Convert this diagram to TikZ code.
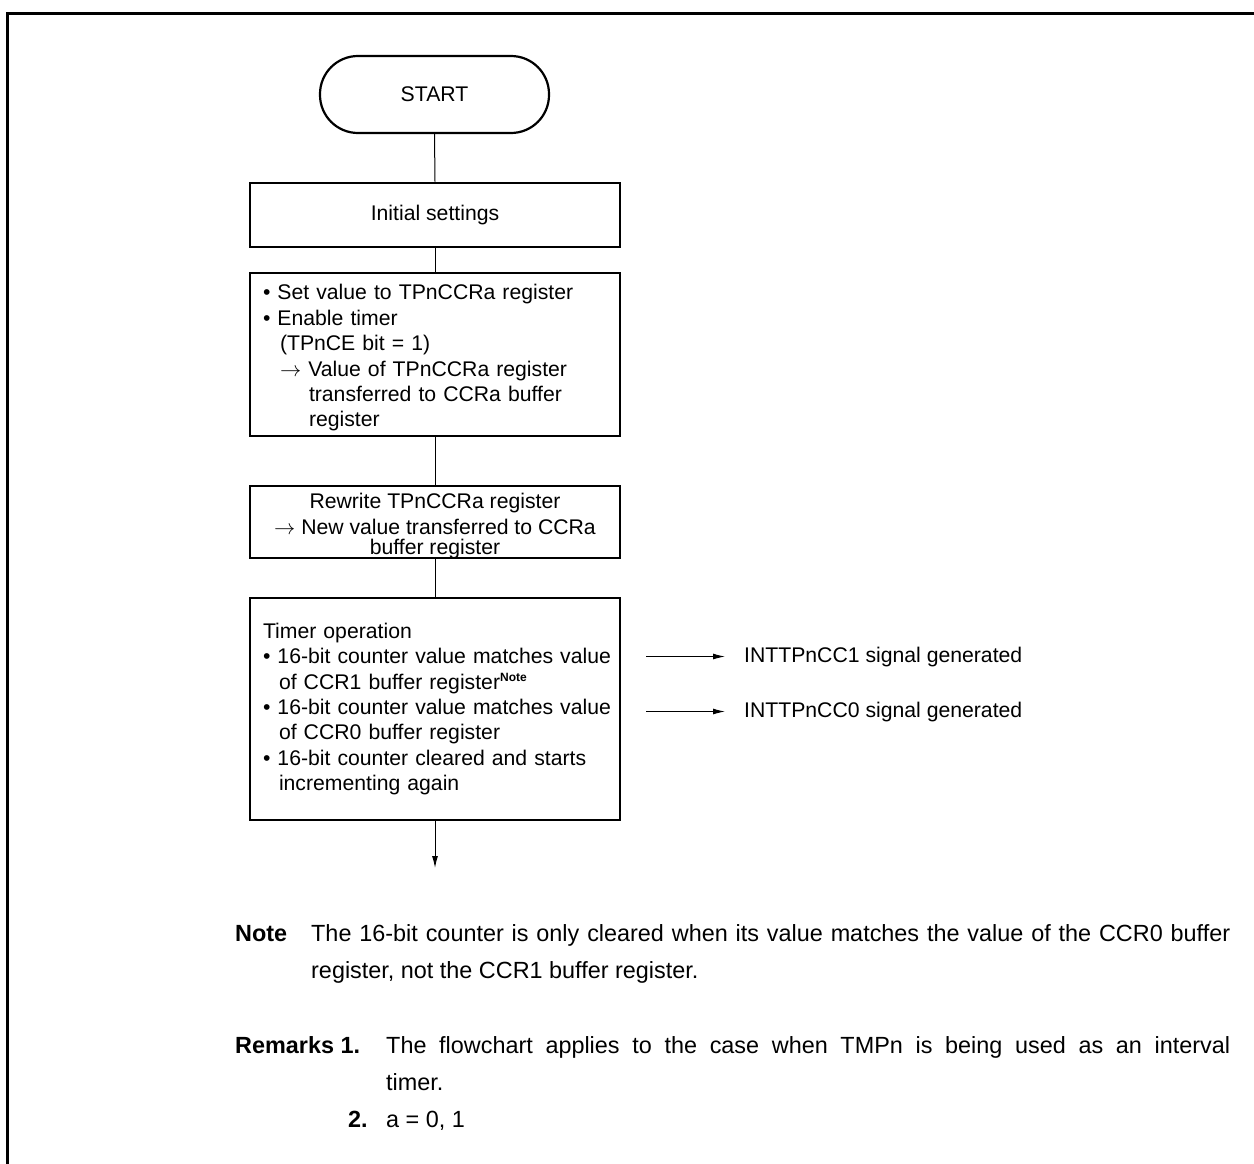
\RequirePackage{fix-cm}
\documentclass[tikz,border=0pt]{standalone}
\usepackage{fontspec}
\setmainfont{Liberation Sans}
\usetikzlibrary{arrows.meta}
\newcommand{\fs}{\fontsize{21.2}{25.4}\selectfont}
\newcommand{\fn}{\fontsize{23.4}{28}\selectfont}
\newcommand{\sarrow}{$\rightarrow$}
\begin{document}
\begin{tikzpicture}[x=1pt,y=-1pt,
  every node/.style={font=\fs, inner sep=0pt},
  flowbox/.style={draw, line width=2.6pt, minimum width=370pt},
  leftbox/.style={flowbox, text width=344pt, inner xsep=13pt, align=left},
  conn/.style={line width=1pt},
  arr/.style={line width=1pt, -{Latex[length=12pt,width=6pt]}},
  frame/.style={line width=3pt},
  txt/.style={anchor=base west, font=\fn},
  btxt/.style={anchor=base west, font=\fn\bfseries}]
\useasboundingbox (0,0) rectangle (1254,1164);
% frame
\draw[frame] (1254,14) -- (7,14) -- (7,1164);
% start
\node[draw, line width=2.2pt, minimum width=229pt, minimum height=77pt, rounded corners=38pt] (start) at (434.5,94.5) {START};
\node[flowbox, minimum height=64pt] (init) at (435,215) {Initial settings};
\node[leftbox, minimum height=163pt] (b2) at (435,354.5) {%
\rule{0pt}{22pt}\textbullet\ Set value to TPnCCRa register\\
\textbullet\ Enable timer\\
\hspace*{17pt}(TPnCE bit = 1)\\
\hspace*{17pt}\sarrow\ Value of TPnCCRa register\\
\hspace*{46pt}transferred to CCRa buffer\\
\hspace*{46pt}register};
\node[flowbox, minimum height=72pt, align=center] (b3) at (435,522) {%
\rule{0pt}{19pt}Rewrite TPnCCRa register\\
\sarrow\ New value transferred to CCRa\\[-5pt]
\smash{buffer register}};
\node[leftbox, minimum height=222pt] (b4) at (435,709) {%
Timer operation\\
\mbox{\textbullet\ 16-bit counter value matches value}\\
\hspace*{16pt}of CCR1 buffer register\textsuperscript{\fontsize{12}{12}\selectfont\bfseries Note}\\
\mbox{\textbullet\ 16-bit counter value matches value}\\
\hspace*{16pt}of CCR0 buffer register\\
\mbox{\textbullet\ 16-bit counter cleared and starts}\\
\hspace*{16pt}incrementing again};
\coordinate (endp) at (435,868);
% connectors
\draw[conn] (start.south) -- (init.north);
\draw[conn] (init.south) -- (b2.north);
\draw[conn] (b2.south) -- (b3.north);
\draw[conn] (b3.south) -- (b4.north);
\draw[arr] (b4.south) -- (endp);
% signals
\node[anchor=base west] (s1) at (744,662) {INTTPnCC1 signal generated};
\node[anchor=base west] (s0) at (744,717) {INTTPnCC0 signal generated};
\draw[arr] ([xshift=25pt]b4.east |- s1.west) -- ([xshift=-19pt]s1.west);
\draw[arr] ([xshift=25pt]b4.east |- s0.west) -- ([xshift=-19pt]s0.west);
% notes
\node[btxt] (notel) at (235,941) {Note};
\node[txt] (note1) at (311,941) {\makebox[919pt][s]{The 16-bit counter is only cleared when its value matches the value of the CCR0 buffer}};
\node[txt] (note2) at (311,978) {register, not the CCR1 buffer register.};
\node[btxt] (reml) at (235,1053) {Remarks 1.};
\node[txt] (rem1) at (386,1053) {\makebox[844pt][s]{The flowchart applies to the case when TMPn is being used as an interval}};
\node[txt] (rem1b) at (386,1090) {timer.};
\node[btxt] (rem2l) at (348,1127) {2.};
\node[txt] (rem2) at (386,1127) {a = 0, 1};
\end{tikzpicture}
\end{document}
